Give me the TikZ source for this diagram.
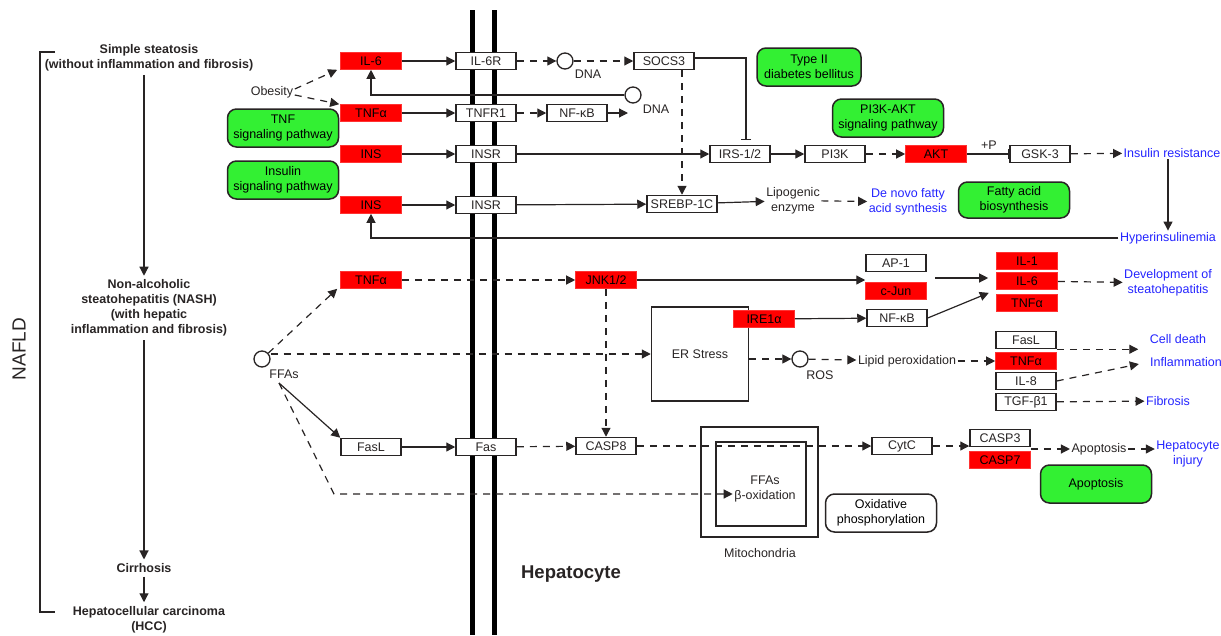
\documentclass[tikz,border=0pt]{standalone}
\usepackage{fontspec}
\setmainfont{Liberation Sans}
\usetikzlibrary{arrows.meta}
\definecolor{genered}{RGB}{255,0,0}
\definecolor{pathgreen}{RGB}{51,240,51}
\definecolor{outblue}{RGB}{36,36,255}
\definecolor{ink}{RGB}{40,36,36}
\begin{document}
\begin{tikzpicture}[x=1pt,y=-1pt,color=ink,line width=1.2pt,
  font=\fontsize{12.5}{15}\selectfont,
  genebox/.style={draw,line width=1.5pt,fill=white,minimum width=60pt,minimum height=17pt,inner sep=0pt},
  redbox/.style={draw=genered!80!white,line width=0.6pt,fill=genered,minimum width=61pt,minimum height=17pt,inner sep=0pt,text=black},
  pathbox/.style={draw,line width=1.5pt,fill=pathgreen,rounded corners=9pt,minimum width=111pt,minimum height=38pt,align=center,inner sep=1pt,text=black},
  mapbox/.style={pathbox,fill=white},
  outtext/.style={text=outblue,align=center,inner sep=1pt},
  plain/.style={align=center,inner sep=1pt},
  stage/.style={align=center,font=\bfseries\fontsize{12.5}{15}\selectfont},
  cpd/.style={draw,circle,line width=1.3pt,minimum size=16pt,inner sep=0pt,fill=white},
  arr/.style={-{Triangle[length=9pt,width=9pt]}},
  dasharr/.style={arr,dash pattern=on 7pt off 6pt},
  inhib/.style={-{Bar[width=10pt]}},
  membrane/.style={line width=5pt,black}]
  \useasboundingbox (0,0) rectangle (1221,635);
  \draw[membrane] (472,10) -- (472,635);
  \draw[membrane] (494,10) -- (494,635);
  \node[stage] (simple) at (149,57.5) {Simple steatosis\\(without inflammation and fibrosis)};
  \node[stage] (nash) at (149,308) {Non-alcoholic\\steatohepatitis (NASH)\\(with hepatic\\inflammation and fibrosis)};
  \node[stage] (cirr) at (144,568) {Cirrhosis};
  \node[stage] (hcc) at (149,619.5) {Hepatocellular carcinoma\\(HCC)};
  \node[rotate=90,font=\fontsize{19}{20}\selectfont] (nafld) at (19,349) {NAFLD};
  \draw (55,52) -- (40,52) -- (40,612) -- (55,612);
  \draw[arr] (simple.south -| cirr) -- (nash.north -| cirr);
  \draw[arr] (nash.south -| cirr) -- (cirr.north);
  \draw[arr] (cirr.south) -- (hcc.north -| cirr);

  \node[redbox] (il6a) at (371,61) {IL-6};
  \node[genebox] (il6r) at (486,61) {IL-6R};
  \node[cpd] (dna1) at (565,61) {};
  \node[plain] (dna1l) at (588,74) {DNA};
  \node[genebox] (socs3) at (664,61) {SOCS3};
  \node[pathbox,minimum width=104pt] (t2d) at (809,67) {Type II\\diabetes bellitus};
  \node[plain] (obesity) at (272,92) {Obesity};
  \node[redbox] (tnfa1) at (371,113) {TNFα};
  \node[cpd] (dna2) at (633,95) {};
  \node[plain] (dna2l) at (656,109) {DNA};
  \node[genebox] (tnfr1) at (486,113) {TNFR1};
  \node[genebox] (nfkb1) at (577,113) {NF-κB};
  \coordinate (nfkbtip) at (628,113);
  \node[pathbox] (tnfpath) at (283,128) {TNF\\signaling pathway};
  \node[pathbox] (akpath) at (888,118) {PI3K-AKT\\signaling pathway};
  \node[redbox] (ins1) at (371,154) {INS};
  \node[genebox] (insr1) at (486,154) {INSR};
  \node[genebox] (irs) at (740,154) {IRS-1/2};
  \node[genebox] (pi3k) at (835,154) {PI3K};
  \node[redbox] (akt) at (936,154) {AKT};
  \node[genebox] (gsk3) at (1040,154) {GSK-3};
  \node[outtext] (insres) at (1172,153) {Insulin resistance};
  \node[plain] (phos) at (989,145) {+P};
  \node[pathbox] (inspath) at (283,180) {Insulin\\signaling pathway};
  \node[redbox] (ins2) at (371,205) {INS};
  \node[genebox] (insr2) at (486,205) {INSR};
  \node[genebox,minimum width=70pt] (srebp) at (682,204) {SREBP-1C};
  \node[plain] (lipo) at (793,200.5) {Lipogenic\\enzyme};
  \node[outtext] (denovo) at (908,202) {De novo fatty\\acid synthesis};
  \node[pathbox,minimum height=36pt] (fabio) at (1014,200) {Fatty acid\\biosynthesis};
  \node[outtext] (hyper) at (1168,238) {Hyperinsulinemia};

  \draw[arr] (il6a) -- (il6r);
  \draw[dasharr] (il6r) -- (dna1);
  \draw[dasharr] (dna1) -- (socs3);
  \draw[dasharr] ([yshift=3pt]obesity.east) -- ([xshift=-3pt]il6a.south west);
  \draw[dasharr] ([yshift=-3pt]obesity.east) -- ([xshift=-1pt]tnfa1.north west);
  \draw[arr] (dna2) -| (il6a.south);
  \draw[arr] (tnfa1) -- (tnfr1);
  \draw[dasharr] (tnfr1) -- (nfkb1);
  \draw[arr] (nfkb1) -- (nfkbtip);
  \draw[inhib] ([yshift=3pt]socs3.east) -| ([xshift=6pt,yshift=5pt]irs.north);
  \draw[dasharr] (socs3.south -| srebp) -- (srebp.north);
  \draw[arr] (ins1) -- (insr1);
  \draw[arr] (insr1) -- (irs);
  \draw[arr] (irs) -- (pi3k);
  \draw[dasharr] (pi3k) -- (akt);
  \draw[inhib] (akt) -- (gsk3);
  \draw[dasharr] (gsk3) -- (insres);
  \draw[arr] (insres.south -| hyper) -- (hyper.north);
  \draw[arr] (hyper.west) -| (ins2.south);
  \draw[arr] (ins2) -- (insr2);
  \draw[arr] (insr2) -- (srebp);
  \draw[arr] (srebp) -- (lipo);
  \draw[dasharr] (lipo) -- (denovo);

  \node[redbox] (tnfa3) at (371,280) {TNFα};
  \node[redbox] (jnk) at (606,280) {JNK1/2};
  \node[genebox] (ap1) at (896,263) {AP-1};
  \node[redbox] (cjun) at (896,291) {c-Jun};
  \node[genebox] (nfkb2) at (897,318) {NF-κB};
  \node[redbox] (il1) at (1027,261) {IL-1};
  \node[redbox] (il6b) at (1027,281) {IL-6};
  \node[redbox] (tnfa4) at (1027,303) {TNFα};
  \node[outtext] (devst) at (1168,283) {Development of\\steatohepatitis};
  \node[draw,line width=1.5pt,minimum width=97pt,minimum height=94pt] (er) at (700,354) {ER Stress};
  \node[redbox] (ire) at (764,319) {IRE1α};
  \node[cpd] (ffas) at (262,359) {};
  \node[plain] (ffasl) at (284,374) {FFAs};
  \coordinate (ffasout) at (279,383);
  \coordinate (ffbend) at (334,494);
  \coordinate (apjun) at (935,278);
  \node[cpd] (ros) at (800,359) {};
  \node[plain] (rosl) at (820,375) {ROS};
  \node[plain] (lipid) at (907,361) {Lipid peroxidation};
  \node[genebox] (fasl2) at (1026,340) {FasL};
  \node[redbox] (tnfa2) at (1026,361) {TNFα};
  \node[genebox] (il8) at (1026,381) {IL-8};
  \node[genebox] (tgfb) at (1026,402) {TGF-β1};
  \node[outtext] (celld) at (1178,339) {Cell death};
  \node[outtext] (inflam) at (1186,362) {Inflammation};
  \node[outtext] (fibro) at (1168,401) {Fibrosis};
  \node[genebox] (fasl1) at (371,447) {FasL};
  \node[genebox] (fas) at (486,447) {Fas};
  \node[genebox] (casp8) at (606,446) {CASP8};
  \node[draw,line width=1.5pt,minimum width=117pt,minimum height=110pt] (mito) at (759.5,482) {};
  \node[draw,line width=1.5pt,minimum width=90pt,minimum height=84pt] (mitoin) at (761,484) {};
  \node[plain] (betaox) at (765,488.5) {FFAs\\β-oxidation};
  \node[plain] (mitol) at (760,553) {Mitochondria};
  \node[genebox] (cytc) at (902,446) {CytC};
  \node[genebox] (casp3) at (1000,438) {CASP3};
  \node[redbox] (casp7) at (1000,460) {CASP7};
  \node[plain] (apop) at (1099,449) {Apoptosis};
  \node[outtext] (hepinj) at (1188,454) {Hepatocyte\\injury};
  \node[pathbox] (apopg) at (1096,484) {Apoptosis};
  \node[mapbox] (oxphos) at (881,513) {Oxidative\\phosphorylation};
  \node[font=\bfseries\fontsize{18.5}{20}\selectfont] (hepato) at (571,574) {Hepatocyte};

  \draw[dasharr] (tnfa3) -- (jnk);
  \draw[arr] (jnk) -- (jnk -| ap1.west);
  \draw[arr] (ire) -- (nfkb2);
  \draw[arr,shorten >=8pt] (apjun) -- (apjun -| il6b.west);
  \draw[arr,shorten >=8pt] (nfkb2.east) -- (il6b.south west);
  \draw[dasharr] (il6b) -- (devst);
  \draw[dasharr] (ffas) -- ([xshift=-3pt]tnfa3.south west);
  \draw[dasharr] (ffas.east |- er.west) -- (er.west);
  \draw[arr] (ffasout) -- (fasl1.north west);
  \draw[dasharr] (ffasout) -- (ffbend) -- (ffbend -| betaox.west);
  \draw[arr] (fasl1) -- (fas);
  \draw[dasharr] (fas) -- (casp8);
  \draw[dasharr] (jnk) -- (casp8);
  \draw[dasharr] (casp8) -- (cytc);
  \draw[dasharr] (er.east |- ros) -- (ros);
  \draw[dasharr] (ros) -- (lipid);
  \draw[dasharr] (lipid) -- (tnfa2);
  \draw[dasharr,shorten >=10pt] (fasl2.south east) -- (fasl2.south east -| celld.west);
  \draw[dasharr,shorten >=10pt] (il8.east) -- (inflam.west);
  \draw[dasharr] (tgfb) -- (fibro);
  \draw[dasharr] (cytc) -- (cytc -| casp3.west);
  \draw[dasharr] (casp3.south east |- apop) -- (apop);
  \draw[dasharr] (apop) -- (apop -| hepinj.west);
\end{tikzpicture}
\end{document}
